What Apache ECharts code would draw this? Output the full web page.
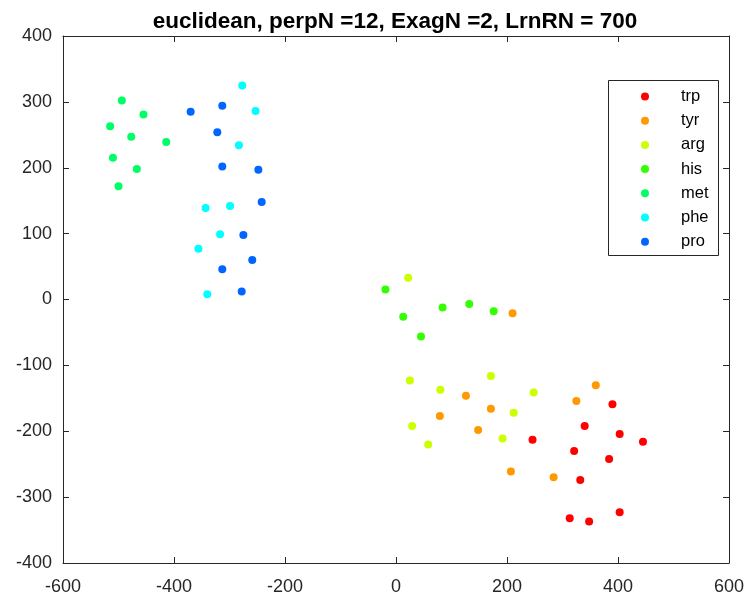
<!DOCTYPE html>
<html>
<head>
<meta charset="utf-8">
<script src="https://cdn.jsdelivr.net/npm/echarts@6/dist/echarts.min.js"></script>
<style>
  html, body { margin: 0; padding: 0; background: #fff; }
  #chart { width: 750px; height: 597px; }
</style>
</head>
<body>
<div id="chart"></div>
<script>
// t-SNE embedding of amino-acid samples, one group per residue type
const groupNames = ['trp', 'tyr', 'arg', 'his', 'met', 'phe', 'pro'];
const groupColors = ['#FF0000', '#FF9900', '#CCFF00', '#33FF00', '#00FF66', '#00FFFF', '#0066FF'];

const trp = [[390, -159], [340, -192], [403, -204], [445, -216], [246, -213], [321, -230],
             [384, -242], [332, -274], [313, -332], [348, -337], [403, -323]];
const tyr = [[210, -21], [126, -146], [79, -177], [171, -166], [148, -198], [360, -130],
             [325, -154], [207, -261], [284, -270]];
const arg = [[22, 33], [25, -123], [80, -137], [171, -116], [248, -141], [212, -172],
             [29, -192], [58, -220], [192, -211]];
const his = [[-19, 15], [13, -26], [45, -56], [84, -12], [132, -7], [176, -18]];
const met = [[-494, 302], [-455, 281], [-515, 263], [-477, 247], [-414, 239], [-510, 215],
             [-467, 198], [-500, 172]];
const phe = [[-277, 325], [-253, 286], [-283, 234], [-343, 139], [-299, 142], [-317, 99],
             [-356, 77], [-340, 8]];
const pro = [[-370, 285], [-313, 294], [-322, 254], [-313, 202], [-248, 197], [-242, 148],
             [-275, 98], [-259, 60], [-313, 46], [-278, 12]];

const groupData = [trp, tyr, arg, his, met, phe, pro];

const titleText = 'euclidean, perpN =12, ExagN =2, LrnRN = 700';
const xTicks = { min: -600, max: 600, step: 200 };
const yTicks = { min: -400, max: 400, step: 100 };

const axisColor = '#262626';
const fontFamily = '"Liberation Sans", Arial, Helvetica, sans-serif';

// Boxed frame: every side carries inward ticks, only bottom/left carry labels
function frameAxis(labelOpts) {
  return {
    axisLine: { show: true, onZero: false, lineStyle: { color: axisColor, width: 1 } },
    axisTick: { show: true, inside: true, length: 6, lineStyle: { color: axisColor } },
    axisLabel: labelOpts
      ? Object.assign({ show: true, color: axisColor, fontSize: 18, fontFamily: fontFamily }, labelOpts)
      : { show: false },
    splitLine: { show: false }
  };
}

const xBase = { type: 'value', min: xTicks.min, max: xTicks.max, interval: xTicks.step };
const yBase = { type: 'value', min: yTicks.min, max: yTicks.max, interval: yTicks.step };

const chart = echarts.init(document.getElementById('chart'), null, { renderer: 'canvas' });

chart.setOption({
  animation: false,
  backgroundColor: '#ffffff',
  title: {
    text: titleText,
    left: 390, top: 5,
    textAlign: 'center',
    textStyle: { fontSize: 22.5, fontWeight: 'bold', color: '#000', fontFamily: fontFamily }
  },
  grid: { left: 63, right: 21, top: 36, bottom: 34, containLabel: false },
  xAxis: [
    Object.assign({}, xBase, frameAxis({ margin: 15 }), { position: 'bottom' }),
    Object.assign({}, xBase, frameAxis(null), { position: 'top' })
  ],
  yAxis: [
    Object.assign({}, yBase, frameAxis({ margin: 11, padding: [3, 0, 0, 0] }), { position: 'left' }),
    Object.assign({}, yBase, frameAxis(null), { position: 'right' })
  ],
  legend: {
    orient: 'vertical',
    left: 641, top: 86.5,
    padding: 0,
    itemWidth: 62, itemHeight: 8, itemGap: 4.2,
    icon: 'circle',
    data: groupNames,
    textStyle: { fontSize: 16.5, lineHeight: 20, color: '#000', fontFamily: fontFamily },
    z: 10
  },
  graphic: [{
    type: 'rect',
    z: 5,
    shape: { x: 608.5, y: 80.5, width: 110, height: 175 },
    style: { fill: '#ffffff', stroke: axisColor, lineWidth: 1 }
  }],
  series: groupNames.map((name, i) => ({
    name: name,
    type: 'scatter',
    xAxisIndex: 0, yAxisIndex: 0,
    symbol: 'circle',
    symbolSize: 8,
    itemStyle: { color: groupColors[i], opacity: 1 },
    data: groupData[i]
  }))
});
</script>
</body>
</html>
